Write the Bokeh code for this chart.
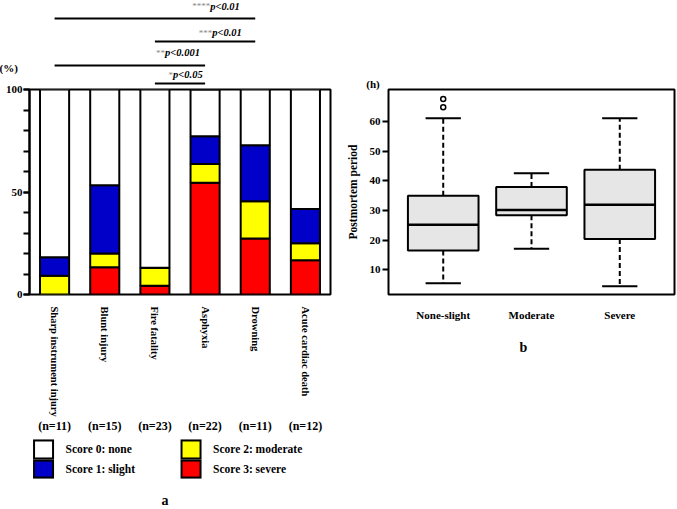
from bokeh.plotting import figure
from bokeh.models import ColumnDataSource, FactorRange, Range1d, FixedTicker
from bokeh.layouts import row
from bokeh.core.properties import value
from bokeh.embed import file_html
from bokeh.resources import INLINE

# ---------------- data: panel a ----------------
categories = ["Sharp instrument injury", "Blunt injury", "Fire fatality",
              "Asphyxia", "Drowning", "Acute cardiac death"]
n_cases = [11, 15, 23, 22, 11, 12]
score3_severe = [0.0, 13.3, 4.3, 54.5, 27.3, 16.7]
score2_moderate = [9.1, 6.7, 8.7, 9.1, 18.2, 8.3]
score1_slight = [9.1, 33.3, 0.0, 13.6, 27.3, 16.7]
score0_none = [81.8, 46.7, 87.0, 22.7, 27.3, 58.3]
score_labels = ["Score 0: none", "Score 1: slight", "Score 2: moderate", "Score 3: severe"]
score_colors = ["#ffffff", "#0000c8", "#ffff00", "#ff0000"]

sig_from = ["Sharp instrument injury", "Fire fatality", "Sharp instrument injury", "Fire fatality"]
sig_to = ["Drowning", "Drowning", "Asphyxia", "Asphyxia"]
sig_stars = ["****", "***", "**", "*"]
sig_text = ["p<0.01", "p<0.01", "p<0.001", "p<0.05"]

# ---------------- data: panel b ----------------
groups = ["None-slight", "Moderate", "Severe"]
whisker_low = [5.5, 17.1, 4.5]
q1 = [16.5, 28.4, 20.4]
median = [25.2, 30.1, 31.9]
q3 = [34.9, 37.9, 43.7]
whisker_high = [61.0, 42.5, 61.0]
outlier_group = ["None-slight", "None-slight"]
outlier_value = [64.7, 67.5]

FONT_NAME = "Liberation Serif"
FONT = value(FONT_NAME)


def style_text_axis(ax, size="11px"):
    ax.major_label_text_font = FONT_NAME
    ax.major_label_text_font_style = "bold"
    ax.major_label_text_font_size = size
    ax.major_label_text_color = "black"


# ================= panel a =================
p = figure(x_range=FactorRange(*categories, range_padding=0), y_range=Range1d(0, 100),
           frame_width=301, frame_height=205,
           min_border_left=29, min_border_right=10, min_border_top=89, min_border_bottom=214,
           output_backend="svg", toolbar_location=None)
p.grid.visible = False
p.outline_line_color = "black"
p.outline_line_width = 2

src = ColumnDataSource(dict(cat=categories, s3=score3_severe, s2=score2_moderate,
                            s1=score1_slight, s0=score0_none,
                            ntxt=[f"(n={n})" for n in n_cases]))
rs = p.vbar_stack(["s3", "s2", "s1", "s0"], x="cat", width=0.58, source=src,
                  fill_color=["#ff0000", "#ffff00", "#0000c8", "#ffffff"],
                  line_color="black", line_width=2)

ya = p.yaxis[0]
ya.ticker = FixedTicker(ticks=[0, 50, 100], minor_ticks=list(range(0, 101, 10)))
ya.axis_line_width = 2
ya.major_tick_line_width = 2
ya.minor_tick_line_width = 2
ya.major_tick_out = 6
ya.minor_tick_out = 6
ya.major_tick_in = 0
ya.minor_tick_in = 0
ya.major_label_standoff = 1
style_text_axis(ya)

xa = p.xaxis[0]
xa.axis_line_color = None
xa.major_tick_line_color = None
xa.minor_tick_line_color = None
xa.major_label_orientation = "vertical"
xa.major_label_standoff = 6
style_text_axis(xa, "10.5px")

# case counts under each column
p.text(x="cat", y=0, text="ntxt", y_offset=131, source=src, text_align="center",
       text_baseline="middle", text_font=FONT, text_font_style="bold",
       text_font_size="12px", text_color="black", level="overlay")

# legend (two columns of outlined colour keys + labels under the chart)
leg_top = [-70.7, -80.5, -70.7, -80.5]
leg_bot = [-80.5, -89.8, -80.5, -89.8]
leg_src = ColumnDataSource(dict(lab=score_labels, col=score_colors,
                                lx=[0.28, 0.28, 3.22, 3.22],
                                top=leg_top, bot=leg_bot,
                                itop=[t - 1.0 for t in leg_top],
                                ibot=[b + 1.0 for b in leg_bot],
                                ty=[(t + b) / 2 for t, b in zip(leg_top, leg_bot)]))
p.segment(x0="lx", y0="top", x1="lx", y1="bot", source=leg_src, line_color="black",
          line_width=21, line_cap="butt", level="overlay")
p.segment(x0="lx", y0="itop", x1="lx", y1="ibot", source=leg_src, line_color="col",
          line_width=17, line_cap="butt", level="overlay")
p.text(x="lx", y="ty", text="lab", x_offset=22, source=leg_src, text_align="left",
       text_baseline="middle", text_font=FONT, text_font_style="bold",
       text_font_size="11.5px", text_color="black", level="overlay")

# significance brackets
sig_src = ColumnDataSource(dict(a=sig_from, b=sig_to, stars=sig_stars, ptxt=sig_text,
                                ly=[134.6, 123.4, 111.7, 102.9],
                                ty=[140.5, 127.8, 118.0, 107.3],
                                off=[-45, -43, -40, -32]))
p.segment(x0="a", y0="ly", x1="b", y1="ly", source=sig_src, line_color="black",
          line_width=2, level="overlay")
p.text(x="b", y="ty", text="ptxt", x_offset="off", source=sig_src, text_align="left",
       text_baseline="middle", text_font=FONT, text_font_style="bold italic",
       text_font_size="10.5px", text_color="black", level="overlay")
p.text(x="b", y="ty", text="stars", x_offset="off", source=sig_src, text_align="right",
       text_baseline="middle", text_font=FONT, text_font_style="normal",
       text_font_size="9px", text_color="#888888", level="overlay")

p.text(x=[categories[0]], y=[100], text=["(%)"], x_offset=-55, y_offset=-22,
       text_align="left", text_baseline="middle", text_font=FONT,
       text_font_style="bold", text_font_size="11px", text_color="black", level="overlay")
p.text(x=[categories[2]], y=[0], text=["a"], x_offset=10, y_offset=206,
       text_align="center", text_baseline="middle", text_font=FONT,
       text_font_style="bold", text_font_size="14px", text_color="black", level="overlay")

# ================= panel b =================
q = figure(x_range=FactorRange(*groups, range_padding=0.08), y_range=Range1d(1.7, 70.7),
           frame_width=286, frame_height=205,
           min_border_left=48, min_border_right=3, min_border_top=89, min_border_bottom=60,
           output_backend="svg", toolbar_location=None)
q.grid.visible = False
q.outline_line_color = "black"
q.outline_line_width = 2

bsrc = ColumnDataSource(dict(g=groups, lo=whisker_low, q1=q1, med=median, q3=q3, hi=whisker_high))
q.segment(x0="g", y0="q3", x1="g", y1="hi", source=bsrc, line_color="black",
          line_width=2, line_dash="5 3")
q.segment(x0="g", y0="q1", x1="g", y1="lo", source=bsrc, line_color="black",
          line_width=2, line_dash="5 3")
q.vbar(x="g", top="hi", bottom="hi", width=0.4, source=bsrc, fill_alpha=0,
       line_color="black", line_width=2)
q.vbar(x="g", top="lo", bottom="lo", width=0.4, source=bsrc, fill_alpha=0,
       line_color="black", line_width=2)
q.vbar(x="g", top="q3", bottom="q1", width=0.8, source=bsrc, fill_color="#e6e6e6",
       line_color="black", line_width=2)
q.vbar(x="g", top="med", bottom="med", width=0.8, source=bsrc, fill_alpha=0,
       line_color="black", line_width=2.5)
osrc = ColumnDataSource(dict(g=outlier_group, v=outlier_value))
q.scatter(x="g", y="v", source=osrc, marker="circle", size=5, fill_color="white",
          line_color="black", line_width=1.5)

qy = q.yaxis[0]
qy.ticker = FixedTicker(ticks=[10, 20, 30, 40, 50, 60])
qy.axis_line_color = None
qy.major_tick_line_width = 2
qy.major_tick_out = 6
qy.major_tick_in = 0
qy.minor_tick_line_color = None
qy.major_label_standoff = 2
style_text_axis(qy)
qy.axis_label = "Postmortem period"
qy.axis_label_standoff = 8
qy.axis_label_text_font = FONT_NAME
qy.axis_label_text_font_style = "bold"
qy.axis_label_text_font_size = "11.5px"
qy.axis_label_text_color = "black"

qx = q.xaxis[0]
qx.axis_line_color = None
qx.major_tick_line_color = None
qx.minor_tick_line_color = None
qx.major_label_standoff = 8
style_text_axis(qx)

q.text(x=[groups[0]], y=[70.7], text=["(h)"], x_offset=-77, y_offset=-6,
       text_align="left", text_baseline="middle", text_font=FONT,
       text_font_style="bold", text_font_size="11px", text_color="black", level="overlay")
q.text(x=[groups[1]], y=[1.7], text=["b"], x_offset=-8, y_offset=53,
       text_align="center", text_baseline="middle", text_font=FONT,
       text_font_style="bold", text_font_size="14px", text_color="black", level="overlay")

layout = row(p, q)
open("out.html", "w").write(file_html(layout, INLINE))
